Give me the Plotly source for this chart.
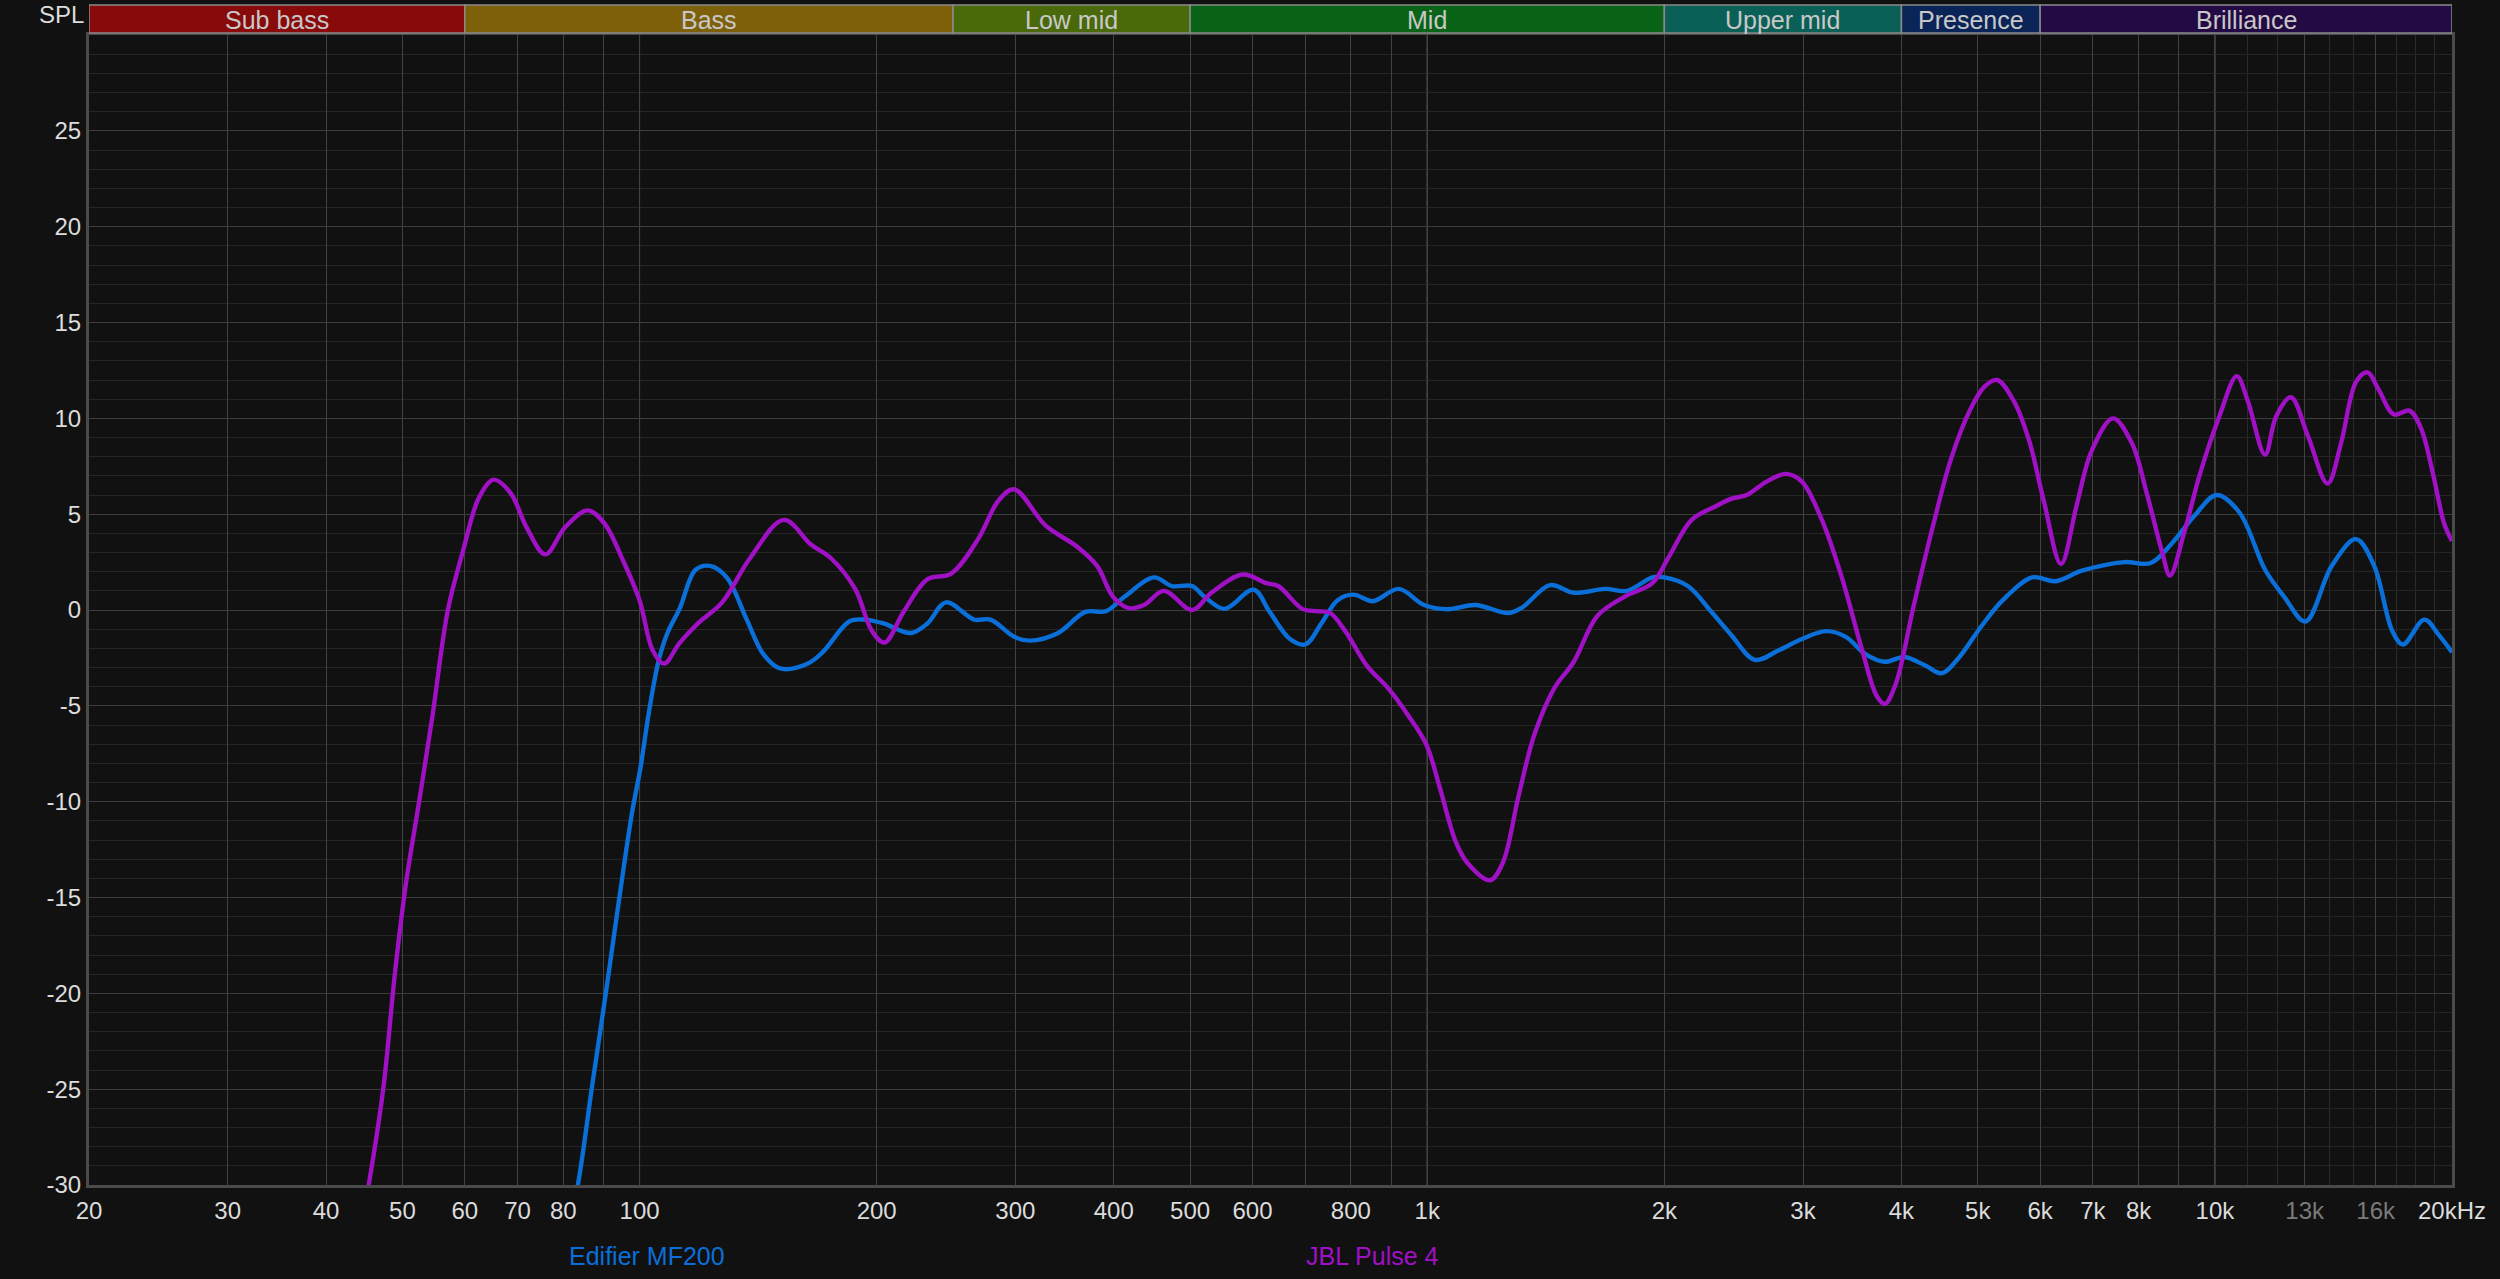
import math
import plotly.graph_objects as go

# ---------------- data ----------------
edifier_freq = [78, 83.5, 87, 90.6, 94.2, 97.8, 100.3, 102.8, 105.8, 108.5, 112.5, 117.8, 122.9, 129, 136.8,
                143.6, 150.8, 163.4, 170.8, 184.6, 193, 204, 221, 232, 245, 266, 279, 299, 313, 340, 368, 391,
                413, 450, 474, 503, 521, 553, 602, 631, 669, 700, 734, 769, 806, 853, 920, 991, 1062, 1151,
                1269, 1321, 1432, 1535, 1683, 1793, 1932, 2000, 2142, 2296, 2432, 2605, 2795, 2995, 3210, 3400,
                3600, 3810, 4036, 4290, 4500, 4728, 5042, 5376, 5863, 6274, 6780, 7679, 8288, 8828, 9414,
                10050, 10740, 11580, 12240, 13030, 14070, 15110, 15930, 16800, 17330, 18450, 19240, 20000]
edifier_db = [-36, -30, -24.9, -20, -15.1, -10.6, -8.2, -5.3, -2.6, -1.2, 0.1, 2.1, 2.3, 1.7, -0.5,
              -2.3, -3.05, -2.8, -2.2, -0.6, -0.5, -0.7, -1.2, -0.7, 0.4, -0.5, -0.5, -1.4, -1.6, -1.2, -0.1, -0.06,
              0.7, 1.7, 1.25, 1.25, 0.7, 0.06, 1.06, -0.1, -1.5, -1.8, -0.7, 0.5, 0.8, 0.46, 1.1, 0.26, 0.04, 0.26,
              -0.16, 0.14, 1.3, 0.9, 1.1, 1.0, 1.7, 1.7, 1.25, -0.1, -1.3, -2.6, -2.1, -1.5, -1.1, -1.4,
              -2.3, -2.7, -2.45, -2.9, -3.3, -2.5, -0.9, 0.5, 1.7, 1.5, 2.05, 2.5, 2.45, 3.5, 4.9,
              6.0, 5.1, 2.1, 0.7, -0.6, 2.3, 3.7, 2.3, -1.1, -1.8, -0.5, -1.3, -2.2]

jbl_freq = [40, 45.3, 47.3, 48.9, 50.5, 52.5, 54.6, 57.1, 59.7, 62.6, 65.3, 68.6, 71.9, 75.9, 80.4, 85.9, 90.3,
            95, 100, 103.9, 107.4, 112.5, 118.6, 127.3, 138.1, 152.5, 165.2, 175, 187.8, 197.3, 204.7, 216.3,
            231.9, 248.6, 269, 285.5, 298.8, 327.8, 359.4, 381, 399, 418, 437, 463, 503, 532, 583, 625, 647,
            694, 725, 752, 787, 838, 893, 946, 997, 1038, 1087, 1125, 1202, 1247, 1306, 1368, 1449, 1535,
            1645, 1782, 1931, 2022, 2166, 2321, 2430, 2545, 2697, 2855, 2990, 3170, 3360, 3555, 3723, 3810,
            3931, 4150, 4381, 4625, 4883, 5099, 5292, 5556, 5804, 6064, 6377, 6679, 6974, 7424, 7846, 8193,
            8561, 8770, 9150, 9573, 10130, 10660, 11010, 11580, 11960, 12490, 13120, 13900, 14460, 15110,
            15620, 16140, 16880, 17660, 18260, 18920, 19550, 20000]
jbl_db = [-42, -30, -24.9, -19, -14.3, -10, -5.5, 0, 3.1, 5.9, 6.8, 6.1, 4.3, 2.9, 4.3, 5.2, 4.5,
          2.7, 0.5, -2.1, -2.8, -1.7, -0.7, 0.4, 2.7, 4.7, 3.4, 2.7, 1.1, -1.1, -1.7, -0.1,
          1.6, 1.9, 3.7, 5.7, 6.3, 4.4, 3.3, 2.3, 0.7, 0.1, 0.26, 1.0, 0, 0.9, 1.85, 1.4, 1.25,
          0.06, -0.06, -0.14, -1.1, -2.9, -4.1, -5.5, -7.0, -9.3, -12.1, -13.2, -14.1, -13.2, -9.7, -6.5, -4.1, -2.7,
          -0.3, 0.7, 1.4, 2.7, 4.7, 5.4, 5.8, 6.0, 6.7, 7.1, 6.7, 4.7, 1.7, -1.9, -4.5, -4.9,
          -3.9, 0.3, 4.3, 7.9, 10.4, 11.65, 12.0, 10.9, 8.9, 5.7, 2.4, 5.5, 8.3, 10.0, 8.7, 6.1,
          3.1, 1.8, 4.1, 7.1, 10.1, 12.2, 10.9, 8.1, 10.1, 11.1, 9.1, 6.6, 8.7, 11.9,
          12.4, 11.5, 10.2, 10.4, 9.5, 7.1, 4.5, 3.6]

assert len(edifier_freq) == len(edifier_db)
assert len(jbl_freq) == len(jbl_db)

series_names = ["Edifier MF200", "JBL Pulse 4"]
series_colors = ["#0a6fd8", "#a010c4"]

band_names = ["Sub bass", "Bass", "Low mid", "Mid", "Upper mid", "Presence", "Brilliance"]
band_edges = [20, 60, 250, 500, 2000, 4000, 6000, 20000]
band_colors = ["#880a0a", "#7f600a", "#4a690a", "#0a6418", "#0a5f56", "#0a2458", "#240a44"]

x_tick_vals = [20, 30, 40, 50, 60, 70, 80, 90, 100, 200, 300, 400, 500, 600, 700, 800, 900, 1000,
               2000, 3000, 4000, 5000, 6000, 7000, 8000, 9000, 10000, 13000, 16000, 20000]
x_tick_text = ["20", "30", "40", "50", "60", "70", "80", "", "100", "200", "300", "400", "500", "600", "",
               "800", "", "1k", "2k", "3k", "4k", "5k", "6k", "7k", "8k", "", "10k",
               '<span style="color:#7a7a7a">13k</span>', '<span style="color:#7a7a7a">16k</span>', "20kHz"]
x_minor_vals = [11000, 12000, 14000, 15000, 17000, 18000, 19000]
decade_lines = [100, 1000, 10000]
y_tick_vals = [-30, -25, -20, -15, -10, -5, 0, 5, 10, 15, 20, 25]
y_tick_text = ["-30", "-25", "-20", "-15", "-10", "-5", "0", "5", "10", "15", "20", "25"]

# ---------------- figure ----------------
W, H = 2500, 1279
L, R, T, B = 89, 48, 35, 94
plot_h = H - T - B

fig = go.Figure()
for name, fx, fy, col in [(series_names[0], edifier_freq, edifier_db, series_colors[0]),
                          (series_names[1], jbl_freq, jbl_db, series_colors[1])]:
    fig.add_trace(go.Scatter(x=fx, y=fy, mode="lines", name=name,
                             line=dict(color=col, width=4.4, shape="spline", smoothing=1.0),
                             showlegend=False, hoverinfo="x+y+name"))

font_family = "Liberation Sans, Arial, sans-serif"

shapes = []
for d in decade_lines:
    shapes.append(dict(type="line", xref="x", yref="paper", x0=d, x1=d, y0=0, y1=1,
                       line=dict(color="#7c7c7c", width=1), layer="between"))
band_y0 = 1 + (35 - 33) / plot_h
band_y1 = 1 + (35 - 5) / plot_h
annotations = []
for i, nm in enumerate(band_names):
    a, b = band_edges[i], band_edges[i + 1]
    shapes.append(dict(type="rect", xref="x", yref="paper", x0=a, x1=b, y0=band_y0, y1=band_y1,
                       fillcolor=band_colors[i], line=dict(color="#8a8a8a", width=1.5), layer="above"))
    annotations.append(dict(x=math.log10(math.sqrt(a * b)), xref="x",
                            y=(band_y0 + band_y1) / 2, yref="paper", yshift=-1,
                            text=nm, showarrow=False, xanchor="center", yanchor="middle",
                            font=dict(family=font_family, size=25, color="#c8c8c8")))

annotations.append(dict(x=0, xref="paper", y=1 + (35 - 14) / plot_h, yref="paper", text="SPL",
                        showarrow=False, xanchor="right", yanchor="middle", xshift=-3,
                        font=dict(family=font_family, size=24, color="#dcdcdc")))
legend_x = [(647 - L) / (W - L - R), (1372 - L) / (W - L - R)]
legend_y = (1185 - 1256) / plot_h
for nm, col, lx in zip(series_names, series_colors, legend_x):
    annotations.append(dict(x=lx, xref="paper", y=legend_y, yref="paper", text=nm, showarrow=False,
                            xanchor="center", yanchor="middle",
                            font=dict(family=font_family, size=25, color=col)))

fig.update_layout(
    width=W, height=H,
    margin=dict(l=L, r=R, t=T, b=B, pad=0),
    paper_bgcolor="#111111", plot_bgcolor="#111111",
    shapes=shapes, annotations=annotations,
    font=dict(family=font_family, color="#dcdcdc", size=24),
    xaxis=dict(type="log", range=[math.log10(20), math.log10(20000)],
               tickmode="array", tickvals=x_tick_vals, ticktext=x_tick_text,
               showgrid=True, gridcolor="#424242", gridwidth=1,
               minor=dict(tickmode="array", tickvals=x_minor_vals, showgrid=True,
                          gridcolor="#2a2a2a", gridwidth=1, ticks=""),
               showline=True, mirror=True, linecolor="#4a4a4a", linewidth=3,
               ticks="", ticklabelstandoff=2, zeroline=False,
               tickfont=dict(family=font_family, size=24, color="#dcdcdc")),
    yaxis=dict(range=[-30, 30], tickmode="array", tickvals=y_tick_vals, ticktext=y_tick_text,
               showgrid=True, gridcolor="#3c3c3c", gridwidth=1,
               minor=dict(dtick=1, showgrid=True, gridcolor="#252525", gridwidth=1, ticks=""),
               showline=True, mirror=True, linecolor="#4a4a4a", linewidth=3,
               ticks="", ticklabelstandoff=0, zeroline=False,
               tickfont=dict(family=font_family, size=24, color="#dcdcdc")),
)

fig.write_html("out.html", config={"displayModeBar": False},
               post_script="document.body.style.margin='0';document.body.style.padding='0';"
                           "document.body.style.background='#111111';")
